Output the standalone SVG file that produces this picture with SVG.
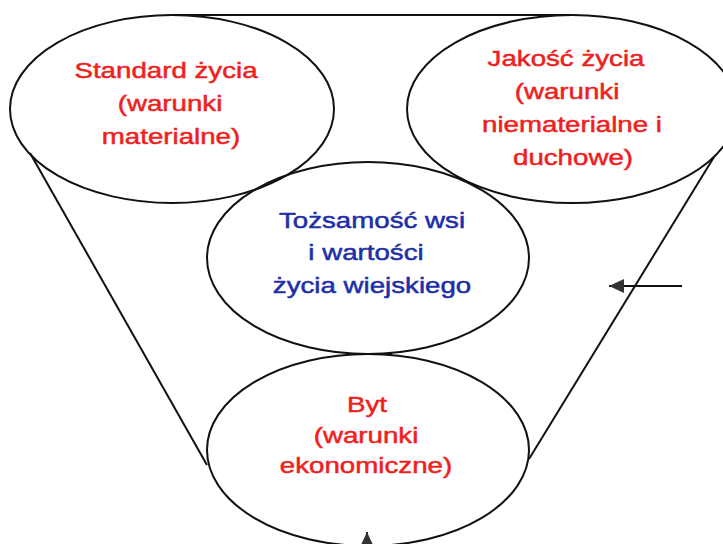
<svg xmlns="http://www.w3.org/2000/svg" width="723" height="544" viewBox="0 0 723 544">
  <style>
    .shape { fill: none; stroke: #111; stroke-width: 2; }
    .conn { fill: none; stroke: #111; stroke-width: 1.8; }
    .t { font-family: "Liberation Sans", Arial, sans-serif; font-size: 22.5px; text-anchor: middle; stroke-width: 0.5; }
    .red { fill: #ee1f1f; stroke: #ee1f1f; }
    .blue { fill: #1e2fa8; stroke: #1e2fa8; }
  </style>
  <defs>
    <marker id="arr" markerUnits="userSpaceOnUse" markerWidth="16" markerHeight="15" refX="15" refY="7" orient="auto">
      <path d="M0,0 L15,7 L0,14 z" fill="#333"/>
    </marker>
  </defs>

  <g id="frame">
    <line class="shape" x1="172" y1="15" x2="572" y2="15"/>
    <line class="shape" x1="30" y1="153" x2="207" y2="465"/>
    <line class="shape" x1="714" y1="157" x2="529" y2="459"/>
    <line class="shape" x1="350" y1="354" x2="392" y2="354" stroke-width="3"/>
  </g>

  <g id="standard">
    <ellipse class="shape" cx="172" cy="109" rx="162" ry="94"/>
    <text class="t red" transform="matrix(1.23 0 0 1 166 0)" y="78">Standard życia</text>
    <text class="t red" transform="matrix(1.23 0 0 1 170 0)" y="111">(warunki</text>
    <text class="t red" transform="matrix(1.23 0 0 1 171 0)" y="144">materialne)</text>
  </g>

  <g id="jakosc">
    <ellipse class="shape" cx="572" cy="109" rx="165" ry="94"/>
    <text class="t red" transform="matrix(1.23 0 0 1 566 0)" y="66">Jakość życia</text>
    <text class="t red" transform="matrix(1.23 0 0 1 567 0)" y="99">(warunki</text>
    <text class="t red" transform="matrix(1.23 0 0 1 572 0)" y="132">niematerialne i</text>
    <text class="t red" transform="matrix(1.23 0 0 1 573 0)" y="165">duchowe)</text>
  </g>

  <g id="tozsamosc">
    <ellipse class="shape" cx="368" cy="258" rx="161" ry="96"/>
    <text class="t blue" transform="matrix(1.23 0 0 1 372 0)" y="228">Tożsamość wsi</text>
    <text class="t blue" transform="matrix(1.23 0 0 1 366 0)" y="260">i wartości</text>
    <text class="t blue" transform="matrix(1.23 0 0 1 372 0)" y="293">życia wiejskiego</text>
  </g>

  <g id="byt">
    <ellipse class="shape" cx="368" cy="450" rx="161" ry="96"/>
    <text class="t red" transform="matrix(1.23 0 0 1 367 0)" y="412">Byt</text>
    <text class="t red" transform="matrix(1.23 0 0 1 366 0)" y="443">(warunki</text>
    <text class="t red" transform="matrix(1.23 0 0 1 366 0)" y="473">ekonomiczne)</text>
  </g>

  <g id="connectors">
    <line class="conn" x1="682" y1="286" x2="609" y2="286" marker-end="url(#arr)"/>
    <line class="conn" x1="367" y1="570" x2="367" y2="532" marker-end="url(#arr)"/>
  </g>
</svg>
